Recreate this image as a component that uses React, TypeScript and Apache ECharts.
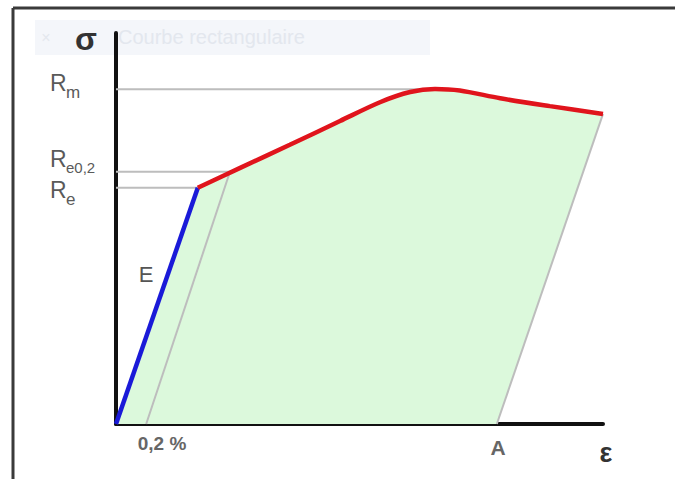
import React, { useEffect, useRef } from "react";
import * as echarts from "echarts";

// Strain (arbitrary units, 0..100) and stress (0..100)
const elasticStrain = [0, 16.8];
const elasticStress = [0, 60.4];
const plasticStrain = [16.8, 25.5, 35.7, 46.0, 54.2, 60.4, 65.5, 70.6, 78.9, 89.1, 100];
const plasticStress = [60.4, 65.5, 71.4, 77.5, 82.3, 84.9, 85.7, 85.3, 83.3, 81.3, 79.3];
const offsetStrain = [6.2, 23.4];
const offsetStress = [0, 64.5];
const unloadStrain = [100, 78.2];
const unloadStress = [79.3, 0];
const refLevels = [85.6, 64.5, 60.4]; // Rm, Re0.2, Re
const refEnds = [63.0, 23.4, 16.8];
const legendLabel = "Courbe rectangulaire";

const toPairs = (xs: number[], ys: number[]) => xs.map((x, i) => [x, ys[i]]);

export default function App() {
  const ref = useRef<HTMLDivElement>(null);
  useEffect(() => {
    if (!ref.current) return;
    const chart = echarts.init(ref.current, null, { renderer: "svg" });
    const polyX = [...elasticStrain, ...plasticStrain.slice(1), ...unloadStrain.slice(1)];
    const polyY = [...elasticStress, ...plasticStress.slice(1), ...unloadStress.slice(1)];
    const gray = "#bdbdbd";
    const labelFont = "Liberation Sans, Arial, sans-serif";
    const refSeries = refLevels.map((lv, i) => ({
      type: "line",
      data: [
        [0, lv],
        [refEnds[i], lv],
      ],
      symbol: "none",
      lineStyle: { color: gray, width: 2 },
      z: 3,
    }));
    const txt = (
      text: string,
      x: number,
      y: number,
      size: number,
      color: string,
      weight: string = "normal",
      align: string = "center"
    ) => ({
      type: "text",
      x,
      y,
      z: 20,
      style: {
        text,
        fill: color,
        font: `${weight} ${size}px ${labelFont}`,
        align,
        verticalAlign: "middle",
      },
    });
    chart.setOption({
      animation: false,
      backgroundColor: "#ffffff",
      grid: { left: 116, right: 72, top: 33, bottom: 55 },
      xAxis: {
        type: "value",
        min: 0,
        max: 100,
        axisLine: { show: true, lineStyle: { color: "#111", width: 4 } },
        axisTick: { show: false },
        axisLabel: { show: false },
        splitLine: { show: false },
      },
      yAxis: {
        type: "value",
        min: 0,
        max: 100,
        axisLine: { show: true, lineStyle: { color: "#111", width: 4 } },
        axisTick: { show: false },
        axisLabel: { show: false },
        splitLine: { show: false },
      },
      graphic: [
        {
          type: "rect",
          shape: { x: 35, y: 20, width: 395, height: 35 },
          style: { fill: "#f4f6fa" },
          z: -1,
        },
        txt("×", 46, 37, 16, "#e4e8ee"),
        txt(legendLabel, 118, 37, 20, "#e3e7ee", "normal", "left"),
        {
          type: "line",
          shape: { x1: 13, y1: 8, x2: 675, y2: 8 },
          style: { stroke: "#3a3a3a", lineWidth: 3 },
        },
        {
          type: "line",
          shape: { x1: 13, y1: 8, x2: 13, y2: 479 },
          style: { stroke: "#3a3a3a", lineWidth: 3 },
        },
        txt("σ", 86, 39, 32, "#333", "bold", "center"),
        txt("R", 50, 83, 23, "#5a5a5a", "normal", "left"),
        txt("m", 66, 92, 17, "#5a5a5a", "normal", "left"),
        txt("R", 50, 159, 23, "#5a5a5a", "normal", "left"),
        txt("e0,2", 66, 167, 15, "#5a5a5a", "normal", "left"),
        txt("R", 50, 190, 23, "#5a5a5a", "normal", "left"),
        txt("e", 66, 199, 17, "#5a5a5a", "normal", "left"),
        txt("E", 146, 274, 22, "#555"),
        txt("0,2 %", 162, 443, 19, "#666", "bold"),
        txt("A", 498, 447, 21, "#666", "bold"),
        txt("ε", 606, 453, 27, "#333", "bold"),
      ],
      series: [
        {
          type: "custom",
          coordinateSystem: "cartesian2d",
          data: [[0, 0]],
          encode: { x: 0, y: 1 },
          z: 1,
          renderItem: (params: any, api: any) => {
            if (params.dataIndex !== 0) return null;
            const pts = polyX.map((x, i) => api.coord([x, polyY[i]]));
            return {
              type: "polygon",
              shape: { points: pts, smooth: 0 },
              style: { fill: "#dcf9dc" },
            };
          },
        },
        ...refSeries,
        {
          type: "line",
          data: toPairs(offsetStrain, offsetStress),
          symbol: "none",
          lineStyle: { color: gray, width: 2 },
          z: 3,
        },
        {
          type: "line",
          data: toPairs(unloadStrain, unloadStress),
          symbol: "none",
          lineStyle: { color: gray, width: 2 },
          z: 3,
        },
        {
          type: "line",
          data: toPairs(elasticStrain, elasticStress),
          symbol: "none",
          lineStyle: { color: "#1a1ad8", width: 4.5 },
          z: 5,
        },
        {
          type: "line",
          data: toPairs(plasticStrain, plasticStress),
          symbol: "none",
          smooth: 0.3,
          lineStyle: { color: "#e0141c", width: 4.5 },
          z: 5,
        },
      ],
    });
    return () => chart.dispose();
  }, []);
  return (
    <div
      ref={ref}
      style={{ position: "fixed", left: 0, top: 0, width: 675, height: 479, background: "#fff" }}
    />
  );
}
